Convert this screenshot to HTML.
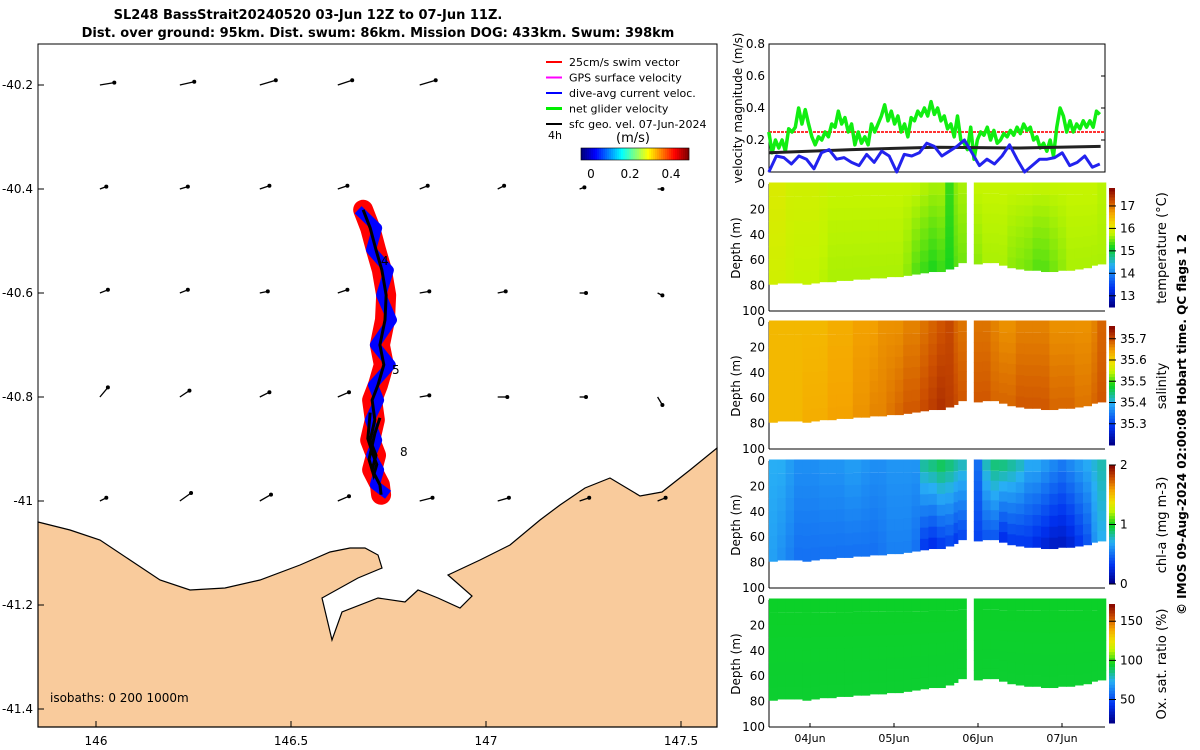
<!DOCTYPE html>
<html><head><meta charset="utf-8">
<style>
html,body{margin:0;padding:0;background:#fff;}
svg{display:block;font-family:"DejaVu Sans","Liberation Sans",sans-serif;}
</style></head>
<body>
<svg id="chart" width="1200" height="750" viewBox="0 0 1200 750">
<text x="308" y="19" font-size="13" font-weight="bold" text-anchor="middle">SL248 BassStrait20240520 03-Jun 12Z to 07-Jun 11Z.</text>
<text x="378" y="37" font-size="13" font-weight="bold" text-anchor="middle">Dist. over ground: 95km. Dist. swum: 86km. Mission DOG: 433km. Swum: 398km</text>
<g id="map"></g>
<g id="right"></g>
<text transform="translate(1186,615) rotate(-90)" font-size="12" font-weight="bold">© IMOS 09-Aug-2024 02:00:08 Hobart time. QC flags 1  2</text>
</svg>
<script>
// ---------- DATA ----------
const lonTicks=[146,146.5,147,147.5];
const latTicks=[-40.2,-40.4,-40.6,-40.8,-41,-41.2,-41.4];
const trackLon=[146.685,146.703,146.718,146.733,146.744,146.741,146.728,146.738,146.723,146.708,146.715,146.703,146.718,146.708,146.728,146.731];
const trackLat=[-40.44,-40.475,-40.517,-40.556,-40.604,-40.652,-40.70,-40.738,-40.777,-40.806,-40.844,-40.883,-40.912,-40.94,-40.969,-40.988];
const loopLon=[146.703,146.697,146.71,146.72,146.712,146.70,146.715,146.728];
const loopLat=[-40.83,-40.88,-40.91,-40.93,-40.95,-40.92,-40.87,-40.84];
const arrowLons=[146.01,146.215,146.42,146.62,146.83,147.03,147.24,147.44];
const arrowLats=[-40.2,-40.4,-40.6,-40.8,-41];
const arrowU=[[0.9,0.9,1,0.9,1,0,0,0],[0.4,0.5,0.6,0.6,0.5,0.4,0.3,0.3],[0.5,0.5,0.5,0.6,0.6,0.5,0.4,0.3],[0.5,0.6,0.6,0.7,0.6,0.6,0.4,0.3],[0.4,0.7,0.7,0.7,0.8,0.7,0.6,0.5]];
const arrowV=[[0.15,0.2,0.3,0.3,0.3,0,0,0],[0.15,0.15,0.2,0.2,0.2,0.2,0.1,0],[0.2,0.2,0.1,0.2,0.1,0.1,0,-0.15],[0.6,0.4,0.3,0.3,0.1,0,0,-0.5],[0.2,0.5,0.4,0.3,0.2,0.2,0.2,0.2]];
const velGreen=[0.25,0.12,0.2,0.15,0.2,0.13,0.27,0.25,0.28,0.4,0.3,0.39,0.3,0.22,0.17,0.22,0.2,0.25,0.22,0.3,0.28,0.38,0.3,0.34,0.25,0.3,0.17,0.25,0.18,0.22,0.17,0.3,0.25,0.3,0.35,0.42,0.32,0.38,0.3,0.35,0.25,0.3,0.22,0.34,0.32,0.38,0.35,0.4,0.35,0.44,0.36,0.4,0.32,0.35,0.27,0.3,0.22,0.35,0.2,0.18,0.14,0.28,0.08,0.2,0.25,0.23,0.28,0.2,0.26,0.18,0.2,0.24,0.22,0.26,0.23,0.28,0.24,0.3,0.26,0.28,0.2,0.22,0.15,0.18,0.13,0.2,0.1,0.28,0.4,0.35,0.25,0.32,0.25,0.3,0.27,0.32,0.28,0.32,0.28,0.38,0.36];
const velBlue=[0,0.1,0.09,0.05,0.1,0.08,0.02,0.12,0.14,0.08,0.09,0.06,0.04,0.11,0.06,0.13,0.1,0,0.11,0.1,0.12,0.18,0.16,0.1,0.13,0.16,0.2,0.12,0.04,0.08,0.05,0.1,0.17,0.08,0,0.04,0.08,0.08,0.09,0.12,0.04,0.06,0.1,0.03,0.05];
const velGeoT=[0.51,1.5,2.5,3.5,4.46];
const velGeo=[0.12,0.14,0.155,0.15,0.16];
const swimRef=0.25;
const profT=[0.51,0.61,0.71,0.81,0.91,1.01,1.11,1.21,1.31,1.41,1.51,1.61,1.71,1.81,1.91,2.01,2.11,2.21,2.31,2.41,2.51,2.61,2.71,2.76,2.95,3.05,3.15,3.25,3.35,3.45,3.55,3.65,3.75,3.85,3.95,4.05,4.15,4.25,4.35,4.42];
const bottomDepth=[79,78,78,78,79,78,77,77,76,76,75,75,74,74,73,73,72,71,70,69,69,67,65,62,63,62,62,64,66,67,68,68,69,69,68,68,67,66,64,63];
const tempTop=[16.0,16.0,15.9,15.9,15.9,15.9,15.85,15.8,15.8,15.8,15.8,15.8,15.8,15.8,15.8,15.8,15.8,15.8,15.75,15.7,15.7,15.3,15.6,15.7,15.8,15.8,15.8,15.8,15.8,15.8,15.8,15.8,15.8,15.8,15.8,15.8,15.8,15.8,15.8,15.75];
const tempBot=[15.9,15.9,15.85,15.8,15.8,15.8,15.75,15.7,15.7,15.7,15.7,15.7,15.7,15.7,15.7,15.7,15.6,15.4,15.3,15.2,15.3,15.2,15.4,15.5,15.6,15.7,15.7,15.7,15.6,15.55,15.5,15.4,15.4,15.5,15.6,15.7,15.7,15.7,15.7,15.7];
const salTop=[35.63,35.63,35.63,35.63,35.63,35.63,35.63,35.64,35.64,35.64,35.65,35.65,35.65,35.66,35.66,35.66,35.67,35.67,35.68,35.69,35.7,35.71,35.69,35.68,35.68,35.68,35.67,35.66,35.66,35.67,35.67,35.67,35.67,35.66,35.66,35.66,35.66,35.66,35.67,35.69];
const salBot=[35.63,35.63,35.63,35.63,35.64,35.64,35.64,35.65,35.65,35.65,35.66,35.66,35.67,35.67,35.68,35.69,35.7,35.7,35.71,35.72,35.73,35.72,35.71,35.7,35.7,35.7,35.69,35.69,35.69,35.7,35.7,35.7,35.7,35.69,35.69,35.69,35.68,35.68,35.69,35.7];
const chlTop=[0.7,0.7,0.65,0.6,0.6,0.6,0.62,0.62,0.62,0.65,0.65,0.62,0.6,0.6,0.62,0.62,0.62,0.62,0.85,0.9,0.95,0.9,0.85,0.8,0.5,0.8,0.9,0.9,0.85,0.8,0.7,0.7,0.65,0.6,0.55,0.6,0.65,0.7,0.75,0.8];
const chlBot=[0.65,0.6,0.55,0.5,0.5,0.5,0.5,0.5,0.5,0.5,0.5,0.5,0.5,0.52,0.55,0.55,0.55,0.5,0.3,0.25,0.3,0.35,0.3,0.35,0.35,0.4,0.4,0.25,0.3,0.3,0.3,0.25,0.2,0.15,0.15,0.2,0.3,0.4,0.6,0.7];
const oxyTop=[95,95,95,95,95,95,95,95,95,95,95,95,95,95,95,95,95,95,95,95,95,95,95,95,95,95,95,95,95,95,95,95,95,95,95,95,95,95,95,95];
const oxyBot=[94,94,94,94,94,94,94,94,94,94,94,94,94,94,94,94,94,94,94,94,94,94,94,94,94,94,94,94,94,94,94,94,94,94,94,94,94,94,94,94];
const dayTicks=["04Jun","05Jun","06Jun","07Jun"];

// ---------- HELPERS ----------
const NS="http://www.w3.org/2000/svg";
function mk(tag,attrs,parent,name){const e=document.createElementNS(NS,tag);for(const k in attrs)e.setAttribute(k,attrs[k]);


parent.appendChild(e);return e;}
const CM=[[0,[0,0,140]],[0.15,[0,50,240]],[0.35,[40,175,245]],[0.5,[10,210,30]],[0.62,[195,245,0]],[0.7,[240,225,0]],[0.8,[245,165,0]],[0.9,[205,80,0]],[1,[140,10,0]]];
function jet(x){x=Math.max(0,Math.min(1,x));for(let i=1;i<CM.length;i++){if(x<=CM[i][0]){const a=CM[i-1],b=CM[i],f=(x-a[0])/(b[0]-a[0]);
 const c=a[1].map((v,k)=>Math.round(v+(b[1][k]-v)*f));return `rgb(${c})`;}}return 'rgb(140,10,0)';}
const map=document.getElementById('map'), R=document.getElementById('right');
const mx=lon=>96+(lon-146)*390, my=lat=>85+(-40.2-lat)*520;
mk('rect',{x:38,y:44,width:679,height:683,fill:'#fff'},map,'map-background');
const coast=[[38,522],[70,530],[100,540],[130,560],[160,580],[190,590],[225,588],[260,580],[300,565],[330,552],[350,548],[365,548],[378,555],[382,568],[358,578],[322,598],[332,640],[342,612],[378,598],[405,602],[418,590],[438,598],[460,608],[472,596],[448,575],[480,560],[510,545],[540,520],[560,505],[585,488],[610,478],[640,496],[662,492],[690,470],[717,448],[717,727],[38,727]];
mk('path',{d:'M'+coast.map(p=>p.join(',')).join('L')+'Z',fill:'#f9cb9c',stroke:'#000','stroke-width':1.2},map,'land-tasmania');
arrowLats.forEach((la,i)=>arrowLons.forEach((lo,j)=>{const u=arrowU[i][j],v=arrowV[i][j];if(!u&&!v)return;
 const x0=mx(lo),y0=my(la),x1=x0+u*16,y1=y0-v*16;
 mk('line',{x1:x0,y1:y0,x2:x1,y2:y1,stroke:'#000','stroke-width':1.3},map,'current-arrow');
 mk('circle',{cx:x1,cy:y1,r:2,fill:'#000'},map,'current-arrow-head');}));
const tp=trackLon.map((lo,i)=>[mx(lo),my(trackLat[i])]);
const lp=loopLon.map((lo,i)=>[mx(lo),my(loopLat[i])]);
const pl=a=>a.map(p=>p.join(',')).join(' ');
mk('polyline',{points:pl(tp),fill:'none',stroke:'#f00','stroke-width':20,'stroke-linejoin':'round','stroke-linecap':'round'},map,'swim-vectors');
mk('polyline',{points:pl(tp.map((p,i)=>[p[0]+(i%2?7:-5),p[1]])),fill:'none',stroke:'#00f','stroke-width':10,'stroke-linejoin':'round'},map,'dive-avg-current-band');
mk('polyline',{points:pl(tp),fill:'none',stroke:'#000','stroke-width':3},map,'glider-track');
mk('polyline',{points:pl(lp),fill:'none',stroke:'#000','stroke-width':3},map,'glider-track-loop');
[['4',381,265],['5',392,374],['8',400,456]].forEach(t=>{const e=mk('text',{x:t[1],y:t[2],'font-size':12},map,'day-label');e.textContent=t[0];});
mk('rect',{x:38,y:44,width:679,height:683,fill:'none',stroke:'#000'},map,'map-frame');
lonTicks.forEach(l=>{const x=mx(l);mk('line',{x1:x,y1:727,x2:x,y2:721,stroke:'#000'},map,'x-tick');
 const e=mk('text',{x:x,y:745,'font-size':12,'text-anchor':'middle'},map,'x-tick-label');e.textContent=l;});
latTicks.forEach(l=>{const y=my(l);mk('line',{x1:38,y1:y,x2:44,y2:y,stroke:'#000'},map,'y-tick');
 const e=mk('text',{x:33,y:y+4,'font-size':12,'text-anchor':'end'},map,'y-tick-label');e.textContent=l;});
{const e=mk('text',{x:50,y:702,'font-size':12},map,'isobaths-note');e.textContent='isobaths: 0   200  1000m';}
const leg=[['25cm/s swim vector','#f00'],['GPS surface velocity','#f0f'],['dive-avg current veloc.','#00f'],['net glider velocity','#0e0'],['sfc geo. vel. 07-Jun-2024','#000']];
leg.forEach((l,i)=>{const y=62+i*15.5;mk('line',{x1:546,y1:y,x2:562,y2:y,stroke:l[1],'stroke-width':i==3?3:2},map,'legend-swatch');
 const e=mk('text',{x:569,y:y+4,'font-size':11},map,'legend-entry');e.textContent=l[0];});
{let e=mk('text',{x:548,y:139,'font-size':11},map,'legend-4h');e.textContent='4h';
 e=mk('text',{x:633,y:142,'font-size':13,'text-anchor':'middle'},map,'colorbar-unit');e.textContent='(m/s)';}
const jetOrig=x=>{const c=v=>Math.round(255*Math.max(0,Math.min(1,v)));return `rgb(${c(1.5-Math.abs(4*x-3))},${c(1.5-Math.abs(4*x-2))},${c(1.5-Math.abs(4*x-1))})`;};
for(let i=0;i<54;i++)mk('rect',{x:581+i*2,y:148,width:2.2,height:12,fill:jetOrig(i/53)},map,'speed-colorbar-cell');
mk('rect',{x:581,y:148,width:108,height:12,fill:'none',stroke:'#000','stroke-width':0.6},map,'speed-colorbar');
[['0',591],['0.2',630],['0.4',671]].forEach(t=>{const e=mk('text',{x:t[1],y:178,'font-size':12,'text-anchor':'middle'},map,'colorbar-tick');e.textContent=t[0];});

// ---------- RIGHT PANELS ----------
const X0=769,X1=1105, tx=t=>810+(t-1)*84;
const vy=v=>172-v*160;
mk('rect',{x:X0,y:44,width:X1-X0,height:128,fill:'#fff',stroke:'#000'},R,'velocity-axes');
[0,0.2,0.4,0.6,0.8].forEach(v=>{const e=mk('text',{x:765,y:vy(v)+4,'font-size':12,'text-anchor':'end'},R,'velocity-y-tick');e.textContent=v;
 mk('line',{x1:X1,y1:vy(v),x2:X1-4,y2:vy(v),stroke:'#000'},R,'velocity-tick-mark');});
{const e=mk('text',{transform:'translate(742,108) rotate(-90)','font-size':12,'text-anchor':'middle'},R,'velocity-y-title');e.textContent='velocity magnitude (m/s)';}
mk('line',{x1:X0,y1:vy(swimRef),x2:X1,y2:vy(swimRef),stroke:'#f33','stroke-width':2,'stroke-dasharray':'3 1'},R,'swim-speed-line');
const ser=(arr,col,w,name)=>mk('polyline',{points:arr.map((v,i)=>[tx(0.51+i*(4.45-0.51)/(arr.length-1)),vy(v)].join(',')).join(' '),fill:'none',stroke:col,'stroke-width':w,'stroke-linejoin':'round'},R,name);
ser(velGreen,'#1e1','3.5','net-glider-velocity-line');
mk('polyline',{points:velGeoT.map((t,i)=>tx(t)+','+vy(velGeo[i])).join(' '),fill:'none',stroke:'#222','stroke-width':3},R,'geostrophic-velocity-line');
ser(velBlue,'#22e','3','dive-avg-current-line');
const panels=[
 {y0:184,top:tempTop,bot:tempBot,min:12.5,max:17.8,ticks:[13,14,15,16,17],label:'temperature (°C)',name:'temperature'},
 {y0:322,top:salTop,bot:salBot,min:35.2,max:35.76,ticks:[35.3,35.4,35.5,35.6,35.7],label:'salinity',name:'salinity'},
 {y0:461,top:chlTop,bot:chlBot,min:0,max:2,ticks:[0,1,2],label:'chl-a (mg m-3)',name:'chlorophyll'},
 {y0:600,top:oxyTop,bot:oxyBot,min:20,max:172,ticks:[50,100,150],label:'Ox. sat. ratio (%)',name:'oxygen'}];
panels.forEach(p=>{const H=127,dy=d=>p.y0+d*H/100;
 mk('line',{x1:X0,y1:p.y0,x2:X0,y2:p.y0+H,stroke:'#000'},R,p.name+'-y-axis');
 mk('line',{x1:X0,y1:p.y0+H,x2:X1,y2:p.y0+H,stroke:'#000'},R,p.name+'-x-axis');
 profT.forEach((t,i)=>{const next=(i<profT.length-1&&profT[i+1]-t<0.15)?profT[i+1]:t+0.1;
  const x=tx(t),w=tx(next)-x+0.6,n=8;
  for(let k=0;k<n;k++){const d0=bottomDepth[i]*k/n,d1=bottomDepth[i]*(k+1)/n;
   const v=p.top[i]+(p.bot[i]-p.top[i])*((k+0.5)/n);
   mk('rect',{x:x,y:dy(d0)-(k==0?1.5:0),width:w,height:dy(d1)-dy(d0)+(k==0?1.5:0.4),fill:jet((v-p.min)/(p.max-p.min))},R,p.name+'-cell');}});
 [0,20,40,60,80,100].forEach(d=>{const e=mk('text',{x:765,y:dy(d)+4,'font-size':12,'text-anchor':'end'},R,p.name+'-depth-tick');e.textContent=d;});
 {const e=mk('text',{transform:`translate(740,${p.y0+64}) rotate(-90)`,'font-size':12,'text-anchor':'middle'},R,p.name+'-y-title');e.textContent='Depth (m)';}
 const cy0=p.y0+4,cy1=p.y0+H-4;
 for(let k=0;k<40;k++)mk('rect',{x:1109,y:cy1-(k+1)*(cy1-cy0)/40,width:6,height:(cy1-cy0)/40+0.5,fill:jet(k/39)},R,p.name+'-colorbar-cell');
 p.ticks.forEach(t=>{const y=cy1-(t-p.min)/(p.max-p.min)*(cy1-cy0);
  mk('line',{x1:1109,y1:y,x2:1116,y2:y,stroke:'#000'},R,p.name+'-colorbar-tick');
  const e=mk('text',{x:1120,y:y+4,'font-size':12},R,p.name+'-colorbar-label');e.textContent=t;});
 {const e=mk('text',{transform:`translate(1166,${p.y0+64}) rotate(-90)`,'font-size':13,'text-anchor':'middle'},R,p.name+'-colorbar-title');e.textContent=p.label;}
});
dayTicks.forEach((d,i)=>{const x=tx(i+1);
 mk('line',{x1:x,y1:727,x2:x,y2:723,stroke:'#000'},R,'date-tick');
 const e=mk('text',{x:x,y:742,'font-size':11,'text-anchor':'middle'},R,'date-tick-label');e.textContent=d;});
</script>
</body></html>
